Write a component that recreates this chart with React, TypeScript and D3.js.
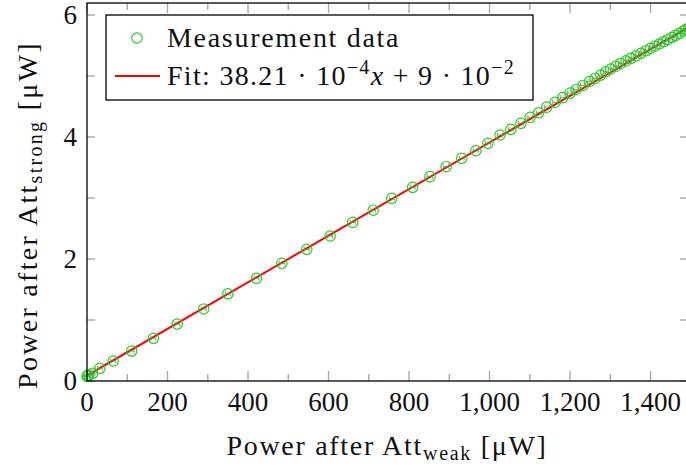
import React from "react";
import * as d3 from "d3";

const measX = [0.3, 1.5, 4, 14, 32, 65, 111, 165, 224, 290, 350, 421, 484, 546, 604, 660, 711, 757, 809, 852, 892, 931, 966, 996, 1026, 1053, 1078, 1101, 1122, 1142, 1163, 1182, 1200, 1215, 1232, 1248, 1262, 1276, 1289, 1301, 1314, 1326, 1339, 1351, 1364, 1376, 1389, 1400, 1411, 1422, 1432, 1442, 1453, 1462, 1472, 1482, 1488, 1496];
const measY = [0.075, 0.085, 0.1, 0.126, 0.208, 0.328, 0.49, 0.7, 0.934, 1.18, 1.43, 1.684, 1.93, 2.159, 2.377, 2.6, 2.8, 2.995, 3.175, 3.35, 3.513, 3.651, 3.775, 3.897, 4.033, 4.126, 4.225, 4.323, 4.398, 4.49, 4.57, 4.645, 4.72, 4.78, 4.845, 4.91, 4.96, 5.015, 5.07, 5.115, 5.162, 5.205, 5.25, 5.29, 5.33, 5.372, 5.415, 5.454, 5.492, 5.525, 5.562, 5.595, 5.634, 5.667, 5.7, 5.738, 5.766, 5.79];
const xErr = 6;
const xMajorTicks = [0, 200, 400, 600, 800, 1000, 1200, 1400];
const xMinorTicks = [100, 300, 500, 700, 900, 1100, 1300, 1500];
const yMajorTicks = [0, 2, 4, 6];
const yMinorTicks = [1, 3, 5];
const fitSlope = 38.21e-4;
const fitIntercept = 9e-2;

const FONT = "'Liberation Serif', 'Times New Roman', serif";
const GREEN = "#27c927";
const TICK = "#a8a8a8";

export default function App() {
  const W = 686, H = 468;
  const left = 87, right = 688, top = 3, bottom = 381;
  const x = d3.scaleLinear().domain([0, 1493]).range([left, right]);
  const y = d3.scaleLinear().domain([0, 6.197]).range([bottom, top]);
  const fmt = d3.format(",");
  const fitXs = [0, 1493];
  const fitLine = d3.line<number>().x((d) => x(d)).y((d) => y(fitSlope * d + fitIntercept))(fitXs) || "";
  const fs = 27;
  const tfs = 28;
  const ls = 1.7;

  return (
    <svg width={W} height={H} style={{ position: "absolute", left: 0, top: 0, background: "#fff" }} fontFamily={FONT}>
      <rect x={0} y={0} width={W} height={H} fill="#fff" />
      <defs>
        <clipPath id="plotclip">
          <rect x={left} y={top} width={right - left} height={bottom - top} />
        </clipPath>
      </defs>
      {/* ticks */}
      {xMajorTicks.map((t) => (
        <g key={"xM" + t} stroke={TICK} strokeWidth={1.4}>
          <line x1={x(t)} x2={x(t)} y1={bottom} y2={bottom - 10} />
          <line x1={x(t)} x2={x(t)} y1={top} y2={top + 10} />
        </g>
      ))}
      {xMinorTicks.map((t) => (
        <g key={"xm" + t} stroke={TICK} strokeWidth={1.4}>
          <line x1={x(t)} x2={x(t)} y1={bottom} y2={bottom - 7} />
          <line x1={x(t)} x2={x(t)} y1={top} y2={top + 7} />
        </g>
      ))}
      {[...yMajorTicks, ...yMinorTicks].map((t) => (
        <g key={"y" + t} stroke={TICK} strokeWidth={1.4}>
          <line x1={left} x2={left + 8} y1={y(t)} y2={y(t)} />
          <line x1={right} x2={right - 8} y1={y(t)} y2={y(t)} />
        </g>
      ))}
      {/* fit line */}
      <g clipPath="url(#plotclip)">
        <path d={fitLine} stroke="#ff0000" strokeWidth={2} fill="none" />
      </g>
      {/* data */}
      <g>
        {measX.map((vx, i) => {
          const cx = x(vx), cy = y(measY[i]);
          const e1 = x(vx - xErr), e2 = x(vx + xErr);
          return (
            <g key={"p" + i}>
              <g stroke="#3aa83a" strokeWidth={0.8}>
                <line x1={e1} x2={e2} y1={cy} y2={cy} />
                <line x1={e1} x2={e1} y1={cy - 2.5} y2={cy + 2.5} />
                <line x1={e2} x2={e2} y1={cy - 2.5} y2={cy + 2.5} />
              </g>
              <circle cx={cx} cy={cy} r={5.2} fill="none" stroke={GREEN} strokeWidth={1.2} />
            </g>
          );
        })}
      </g>
      {/* frame */}
      <rect x={left} y={top} width={right - left} height={bottom - top} fill="none" stroke="#000" strokeWidth={1.3} />
      {/* tick labels */}
      {xMajorTicks.map((t) => (
        <text key={"xl" + t} x={x(t)} y={411} fontSize={fs} textAnchor="middle" fill="#111">
          {fmt(t)}
        </text>
      ))}
      {yMajorTicks.map((t) => (
        <text key={"yl" + t} x={77} y={y(t) + 9} fontSize={fs} textAnchor="end" fill="#111">
          {t}
        </text>
      ))}
      {/* axis titles */}
      <text x={387} y={455} fontSize={tfs} letterSpacing={ls} textAnchor="middle" fill="#111">
        Power after Att<tspan fontSize={20} dy={5}>weak</tspan>
        <tspan dy={-5}> [μW]</tspan>
      </text>
      <text transform={`translate(37, 215) rotate(-90)`} fontSize={tfs} letterSpacing={2.3} textAnchor="middle" fill="#111">
        Power after Att<tspan fontSize={20} dy={5}>strong</tspan>
        <tspan dy={-5}> [μW]</tspan>
      </text>
      {/* legend */}
      <rect x={106} y={15} width={427} height={85} fill="#fff" stroke="#000" strokeWidth={1.3} />
      <circle cx={137} cy={38} r={5.2} fill="none" stroke={GREEN} strokeWidth={1.2} />
      <line x1={115} x2={160} y1={76} y2={76} stroke="#ff0000" strokeWidth={2} />
      <text x={167} y={47} fontSize={tfs} letterSpacing={ls} fill="#111">Measurement data</text>
      <text x={167} y={85} fontSize={tfs} letterSpacing={1.3} fill="#111">
        Fit: 38.21 · 10<tspan fontSize={20} dy={-11}>−4</tspan>
        <tspan dy={11} fontStyle="italic">x</tspan>
        <tspan> + 9 · 10</tspan>
        <tspan fontSize={20} dy={-11}>−2</tspan>
      </text>
    </svg>
  );
}
